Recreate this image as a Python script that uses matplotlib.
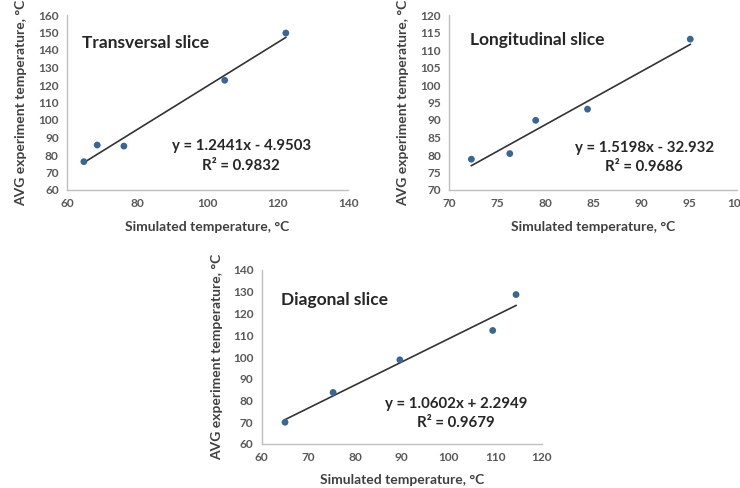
import matplotlib
matplotlib.use("Agg")
import matplotlib.pyplot as plt
import numpy as np

plt.rcParams['font.family'] = ['Lato', 'DejaVu Sans']

# ---- data ----
trans_x = [64.8, 68.6, 76.2, 104.9, 122.3]
trans_y = [76.2, 85.7, 85.1, 122.7, 149.7]
trans_fit = (1.2441, -4.9503)
trans_eq = "y = 1.2441x - 4.9503"
trans_r2 = "R² = 0.9832"

long_x = [72.3, 76.3, 79.0, 84.4, 95.1]
long_y = [78.8, 80.4, 89.9, 93.1, 113.1]
long_fit = (1.5198, -32.932)
long_eq = "y = 1.5198x - 32.932"
long_r2 = "R² = 0.9686"

diag_x = [65.0, 75.3, 89.6, 109.5, 114.5]
diag_y = [70.0, 83.7, 98.7, 112.2, 128.7]
diag_fit = (1.0602, 2.2949)
diag_eq = "y = 1.0602x + 2.2949"
diag_r2 = "R² = 0.9679"

xlabel = "Simulated temperature, °C"
ylabel = "AVG experiment temperature, °C"

W, H = 740, 488
fig = plt.figure(figsize=(W / 100, H / 100), dpi=100)


def px_axes(l, t, r, b):
    return fig.add_axes([l / W, 1 - b / H, (r - l) / W, (b - t) / H])


panels = [
    dict(rect=(67, 15, 348, 190), x=trans_x, y=trans_y, fit=trans_fit, eq=trans_eq, r2=trans_r2,
         title="Transversal slice", xlim=(60, 140), xstep=20, ylim=(60, 160), ystep=10,
         title_pos=(0.053, 0.84), eq_pos=(0.62, 0.25), r2_pos=(0.62, 0.14), xlab_y=-0.175, ylab_x=-0.142),
    dict(rect=(449.3, 15, 737.3, 190), x=long_x, y=long_y, fit=long_fit, eq=long_eq, r2=long_r2,
         title="Longitudinal slice", xlim=(70, 100), xstep=5, ylim=(70, 120), ystep=5,
         title_pos=(0.072, 0.855), eq_pos=(0.677, 0.24), r2_pos=(0.677, 0.13), xlab_y=-0.175, ylab_x=-0.14),
    dict(rect=(261.7, 270, 541.7, 444), x=diag_x, y=diag_y, fit=diag_fit, eq=diag_eq, r2=diag_r2,
         title="Diagonal slice", xlim=(60, 120), xstep=10, ylim=(60, 140), ystep=10,
         title_pos=(0.068, 0.83), eq_pos=(0.693, 0.23), r2_pos=(0.693, 0.12), xlab_y=-0.17, ylab_x=-0.138),
]

for p in panels:
    ax = px_axes(*p["rect"])
    xs = np.array(p["x"])
    ys = np.array(p["y"])
    m, c = p["fit"]
    xl = np.array([xs.min(), xs.max()])
    ax.plot(xl, m * xl + c, color="#333333", lw=1.2, zorder=2)
    ax.scatter(xs, ys, s=24, color="#3A6792", zorder=3, edgecolors="none")
    ax.set_xlim(*p["xlim"])
    ax.set_ylim(*p["ylim"])
    ax.set_xticks(np.arange(p["xlim"][0], p["xlim"][1] + 0.1, p["xstep"]))
    ax.set_yticks(np.arange(p["ylim"][0], p["ylim"][1] + 0.1, p["ystep"]))
    for s in ("top", "right"):
        ax.spines[s].set_visible(False)
    for s in ("left", "bottom"):
        ax.spines[s].set_color("#BFBFBF")
        ax.spines[s].set_linewidth(1.0)
    ax.tick_params(axis="both", length=0, labelsize=8.6, labelcolor="#595959")
    ax.tick_params(axis="x", pad=6)
    ax.tick_params(axis="y", pad=6)
    for lab in ax.get_xticklabels() + ax.get_yticklabels():
        lab.set_fontweight("bold")
    ax.set_xlabel(xlabel, fontsize=10, fontweight="bold", color="#404040")
    ax.set_ylabel(ylabel, fontsize=10, fontweight="bold", color="#404040")
    ax.xaxis.set_label_coords(0.5, p["xlab_y"])
    ax.yaxis.set_label_coords(p["ylab_x"], 0.5)
    ax.text(*p["title_pos"], p["title"], transform=ax.transAxes, fontsize=12.5, fontweight="bold",
            color="#262626", ha="left", va="center")
    ax.text(*p["eq_pos"], p["eq"], transform=ax.transAxes, fontsize=10.8, fontweight="bold",
            color="#262626", ha="center", va="center")
    ax.text(*p["r2_pos"], p["r2"], transform=ax.transAxes, fontsize=10.8, fontweight="bold",
            color="#262626", ha="center", va="center")
    ax.patch.set_alpha(0)

fig.savefig("out.png", dpi=100)
